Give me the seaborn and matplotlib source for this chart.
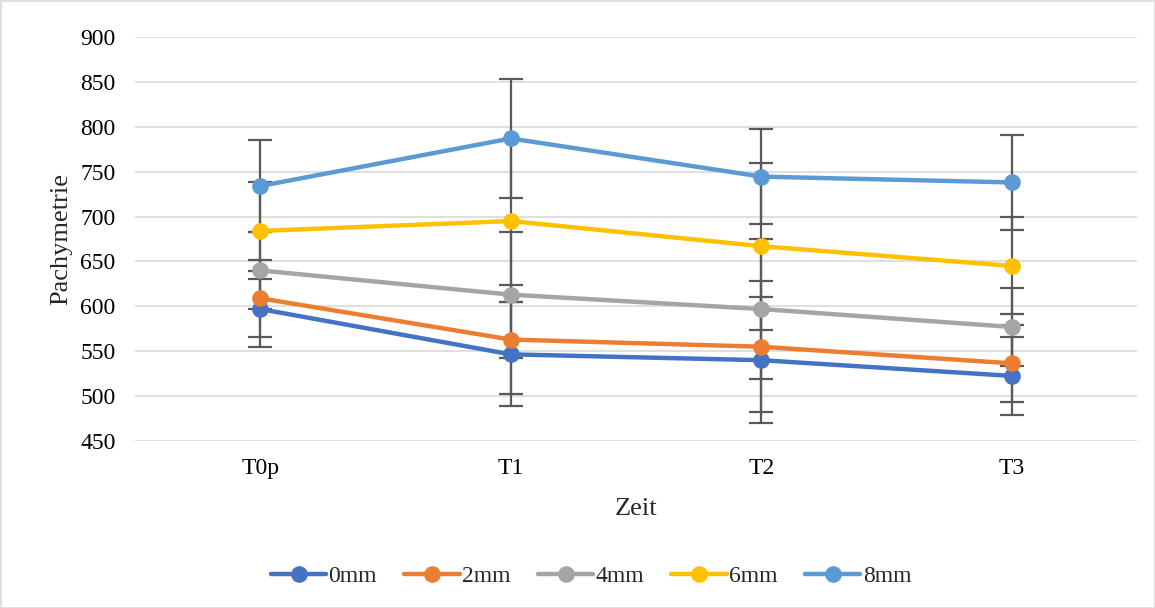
import numpy as np
import pandas as pd
import seaborn as sns
import matplotlib.pyplot as plt
from matplotlib.patches import Rectangle
from matplotlib.lines import Line2D

times = ["T0p", "T1", "T2", "T3"]
series = ["0mm", "2mm", "4mm", "6mm", "8mm"]
mean_0mm = [597, 546.5, 540, 522.5]
mean_2mm = [609, 563, 555, 536.5]
mean_4mm = [640, 613, 597, 577]
mean_6mm = [684, 695, 667, 645]
mean_8mm = [734, 787, 744.5, 738]
err_0mm = [42, 58, 70, 43]
err_2mm = [43, 61, 73, 43]
err_4mm = [43, 70, 78, 43]
err_6mm = [54, 90, 93, 54]
err_8mm = [51, 66, 53, 53]
yticks = [450, 500, 550, 600, 650, 700, 750, 800, 850, 900]

means = [mean_0mm, mean_2mm, mean_4mm, mean_6mm, mean_8mm]
errs = [err_0mm, err_2mm, err_4mm, err_6mm, err_8mm]
colors = ["#4472C4", "#ED7D31", "#A5A5A5", "#FFC000", "#5B9BD5"]

rows = []
for s, m, e in zip(series, means, errs):
    for t, v, ev in zip(times, m, e):
        rows.append({"Zeit": t, "Pachymetrie": v, "err": ev, "Serie": s})
df = pd.DataFrame(rows)

sns.set_theme(style="white")
plt.rcParams['font.family'] = ['Liberation Serif', 'DejaVu Serif']

fig = plt.figure(figsize=(11.55, 6.08), dpi=100)
ax = fig.add_axes([135/1155, 1-441/608, (1137-135)/1155, (441-37)/608])

xpos = {t: i for i, t in enumerate(times)}
for s, c in zip(series, colors):
    sub = df[df["Serie"] == s]
    ax.errorbar([xpos[t] for t in sub["Zeit"]], sub["Pachymetrie"], yerr=sub["err"],
                fmt="none", ecolor="#595959", elinewidth=1.6, capsize=8.5, capthick=1.6, zorder=2)

sns.lineplot(data=df, x="Zeit", y="Pachymetrie", hue="Serie", palette=colors,
             marker="o", markersize=12, markeredgewidth=0, linewidth=3.2,
             sort=False, ax=ax, zorder=3, legend=False)

ax.set_xlim(-0.5, 3.5)
ax.set_ylim(450, 900)
ax.set_yticks(yticks)
ax.set_xticks(range(len(times)))
ax.set_xticklabels(times)
ax.grid(axis="y", color="#d9d9d9", linewidth=1.2)
ax.set_axisbelow(True)
for sp in ax.spines.values():
    sp.set_visible(False)
ax.tick_params(axis="both", length=0, labelsize=17, colors="black")
ax.tick_params(axis="y", pad=14)
ax.tick_params(axis="x", pad=12)
ax.set_xlabel("Zeit", fontsize=19, labelpad=14)
ax.set_ylabel("Pachymetrie", fontsize=19, labelpad=6)

handles = [Line2D([0], [0], color=c, linewidth=3.2, marker="o", markersize=12, markeredgewidth=0)
           for c in colors]
fig.legend(handles, series, loc="center", bbox_to_anchor=(591/1155, 1-576/608), ncol=5,
           frameon=False, fontsize=17, handlelength=2.35, handletextpad=0.1, columnspacing=1.15)

fig.patches.append(Rectangle((0.5/1155, 0.5/608), 1-1/1155, 1-1/608, transform=fig.transFigure,
                             fill=False, edgecolor="#d9d9d9", linewidth=1.2))

fig.savefig("out.png", dpi=100)
